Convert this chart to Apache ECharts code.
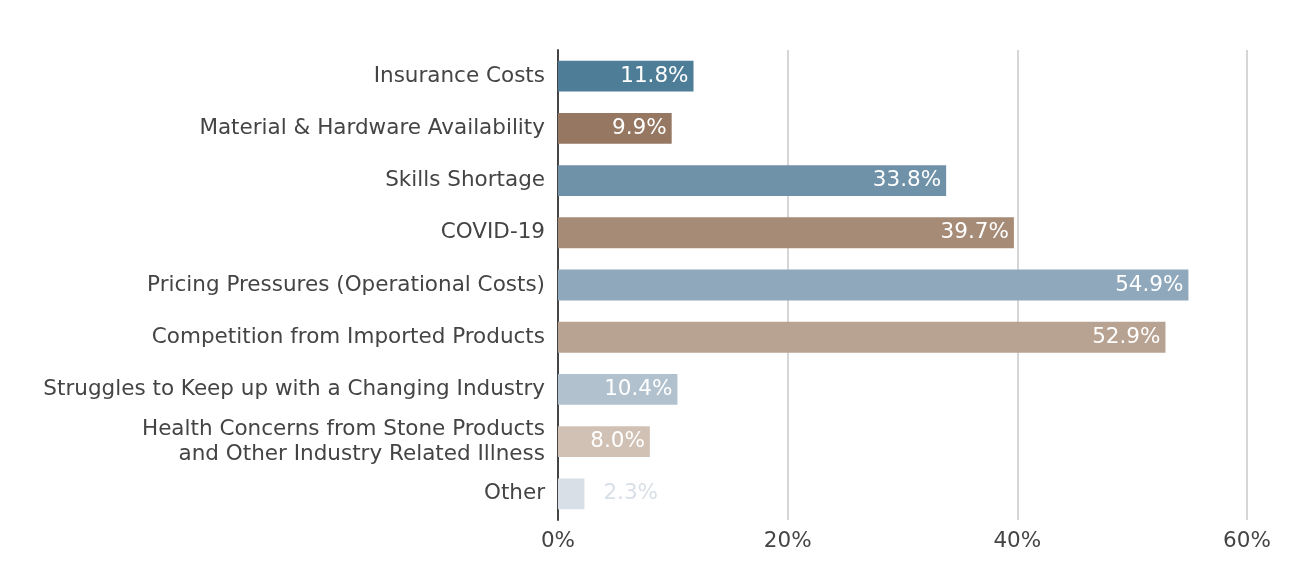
<!DOCTYPE html>
<html><head><meta charset="utf-8">
<script src="https://cdn.jsdelivr.net/npm/echarts@6/dist/echarts.min.js"></script>
<style>html,body{margin:0;padding:0;background:#fff}#c{width:1300px;height:585px}</style>
</head><body><div id="c"></div>
<script>
const categories = [
  "Insurance Costs",
  "Material & Hardware Availability",
  "Skills Shortage",
  "COVID-19",
  "Pricing Pressures (Operational Costs)",
  "Competition from Imported Products",
  "Struggles to Keep up with a Changing Industry",
  "Health Concerns from Stone Products\nand Other Industry Related Illness",
  "Other"
];
const values = [11.8, 9.9, 33.8, 39.7, 54.9, 52.9, 10.4, 8.0, 2.3];
const barColors = ["#4E7D98","#967862","#6F92A9","#A68B77","#90A8BC","#B8A392","#B2C1CE","#D1C1B4","#D8DFE7"];
const xTicks = [0, 20, 40, 60];

const FONT = "DejaVu Sans";
const FS = 21.5;
const chart = echarts.init(document.getElementById('c'));
const data = values.map((v, i) => {
  const item = { value: v, itemStyle: { color: barColors[i] } };
  if (i === values.length - 1) {
    item.label = { position: 'right', distance: 19, color: '#D8DFE7' };
  }
  return item;
});
chart.setOption({
  animation: false,
  grid: { left: 558, right: 53, top: 50, bottom: 65, containLabel: false },
  xAxis: {
    type: 'value', min: xTicks[0], max: xTicks[xTicks.length - 1], interval: 20,
    axisLine: { show: false }, axisTick: { show: false },
    splitLine: { lineStyle: { color: '#C8C8C8', width: 1.5 } },
    axisLabel: { formatter: v => v + '%', color: '#444', fontFamily: FONT, fontSize: FS, margin: 10 }
  },
  yAxis: {
    type: 'category', data: categories, inverse: true,
    axisLine: { lineStyle: { color: '#444', width: 2 } },
    axisTick: { show: false },
    axisLabel: { color: '#444', fontFamily: FONT, fontSize: FS, margin: 13, lineHeight: 25, align: 'right' }
  },
  series: [{
    type: 'bar', data: data, barCategoryGap: '41%',
    label: {
      show: true, position: 'insideRight', distance: 5, color: '#fff',
      fontFamily: FONT, fontSize: FS, formatter: p => p.value.toFixed(1) + '%'
    }
  }]
});
</script></body></html>
